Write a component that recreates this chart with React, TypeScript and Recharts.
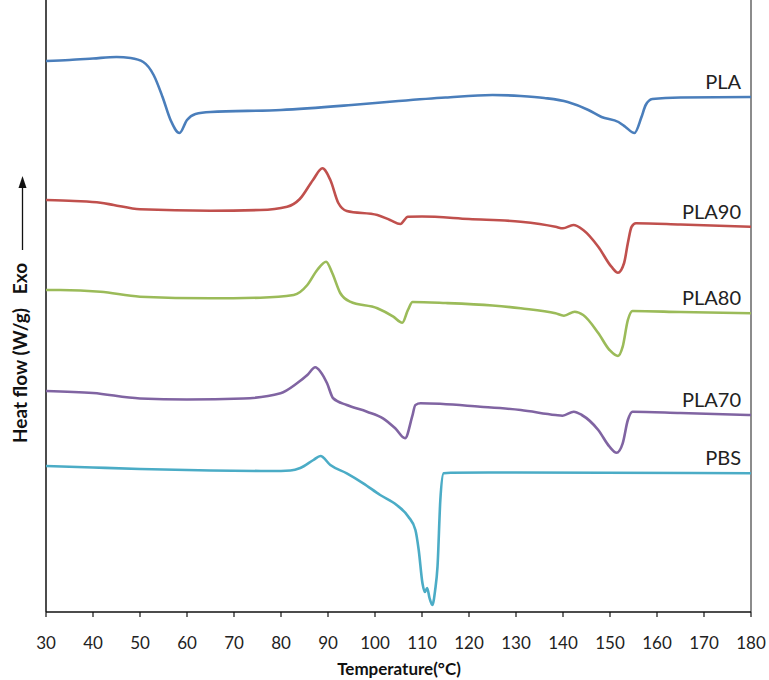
import React from "react";
import { LineChart, Line, XAxis, YAxis, ReferenceLine, LabelList, Customized } from "recharts";

// Temperature (°C) and heat flow (arbitrary offset units, W/g) for each sample
const plaT = [30, 35, 40, 45, 48, 50.7, 52.9, 54.8, 56.5, 58.4, 60, 61.8, 65, 80, 95, 105, 115, 125, 131, 136, 141, 145.4, 148.2, 151.8, 153.3, 155.2, 156.7, 157.6, 159, 165, 180];
const plaV = [5.51, 5.52, 5.535, 5.55, 5.54, 5.5, 5.37, 5.15, 4.92, 4.79, 4.92, 4.98, 5.0, 5.02, 5.07, 5.11, 5.145, 5.17, 5.16, 5.14, 5.1, 5.02, 4.95, 4.9, 4.85, 4.79, 4.95, 5.07, 5.13, 5.145, 5.15];

const pla90T = [30, 36, 41.6, 44.4, 50, 65, 75.6, 81.3, 84, 86.8, 88.8, 90.5, 92.2, 94, 100.5, 103.2, 105.4, 107, 110, 120, 131, 138.4, 140, 142.2, 144.3, 147.5, 150.3, 151.7, 153, 153.8, 154.6, 155.5, 165, 180];
const pla90V = [4.12, 4.11, 4.093, 4.07, 4.027, 4.013, 4.02, 4.053, 4.13, 4.32, 4.437, 4.32, 4.09, 4.01, 3.97, 3.92, 3.88, 3.953, 3.955, 3.93, 3.903, 3.853, 3.837, 3.87, 3.82, 3.653, 3.453, 3.393, 3.49, 3.69, 3.853, 3.887, 3.875, 3.853];

const pla80T = [30, 33, 41.6, 50, 65, 75.6, 82.7, 85.6, 87.7, 89.6, 90.9, 92.6, 94.7, 100.5, 103.9, 105.8, 107, 108, 115, 125, 131, 138.4, 140.2, 142.5, 144.3, 147.5, 149.9, 151.7, 152.7, 153.8, 154.8, 165, 180];
const pla80V = [3.22, 3.22, 3.203, 3.153, 3.137, 3.143, 3.17, 3.27, 3.42, 3.503, 3.39, 3.19, 3.103, 3.037, 2.953, 2.893, 3.02, 3.1, 3.09, 3.065, 3.037, 2.987, 2.963, 3.003, 2.97, 2.79, 2.62, 2.56, 2.653, 2.92, 3.01, 3.0, 2.987];

const pla70T = [30, 40, 50, 60, 72, 79.9, 83.4, 85.6, 87.3, 88.4, 89.8, 91.1, 94, 98.3, 101.7, 104.3, 106.4, 107.9, 108.6, 109.7, 122.4, 131, 138.4, 139.9, 142.3, 144, 147.5, 149.9, 151.4, 152.7, 153.8, 154.8, 165, 180];
const pla70V = [2.21, 2.19, 2.135, 2.125, 2.135, 2.187, 2.287, 2.37, 2.447, 2.403, 2.287, 2.137, 2.07, 2.003, 1.937, 1.837, 1.737, 1.953, 2.07, 2.087, 2.053, 2.02, 1.97, 1.963, 2.003, 1.97, 1.82, 1.653, 1.593, 1.687, 1.92, 2.003, 1.99, 1.97];

const pbsT = [30, 40, 50, 65, 78, 82, 84.1, 86.9, 88.4, 90.5, 94, 97.5, 101.1, 104.6, 107.1, 108.6, 109.3, 110.1, 110.6, 111.1, 111.6, 112.2, 112.8, 113.3, 113.9, 114.6, 116.1, 130, 180];
const pbsV = [1.46, 1.445, 1.43, 1.415, 1.41, 1.415, 1.44, 1.52, 1.56, 1.47, 1.387, 1.287, 1.17, 1.07, 0.953, 0.82, 0.62, 0.287, 0.2, 0.24, 0.14, 0.07, 0.22, 0.453, 1.12, 1.387, 1.393, 1.395, 1.387];

const xTicks = [30, 40, 50, 60, 70, 80, 90, 100, 110, 120, 130, 140, 150, 160, 170, 180];
const seriesNames = ["PLA", "PLA90", "PLA80", "PLA70", "PBS"];
const seriesColors = ["#4A7EBB", "#C0504D", "#9BBB59", "#8064A2", "#4BACC6"];

const build = (ts: number[], vs: number[]) => ts.map((t, i) => ({ t, v: vs[i] }));
const seriesData = [
  build(plaT, plaV),
  build(pla90T, pla90V),
  build(pla80T, pla80V),
  build(pla70T, pla70V),
  build(pbsT, pbsV),
];

const FONT = "Lato, 'Open Sans', sans-serif";

const makeEndLabel = (name: string, lastIndex: number) => (props: any) => {
  const { x, y, index } = props;
  if (index !== lastIndex) return <g />;
  return (
    <text x={x - 10} y={y - 16} textAnchor="end" dominantBaseline="central" fontFamily={FONT} fontSize={20} fill="#222">
      {name}
    </text>
  );
};

const Annotations = () => (
  <g>
    <text x={399} y={668} textAnchor="middle" dominantBaseline="central" fontFamily={FONT} fontWeight="bold" fontSize={17} fill="#111">
      Temperature(°C)
    </text>
    <text
      transform="translate(19, 353) rotate(-90)"
      textAnchor="middle"
      dominantBaseline="central"
      fontFamily={FONT}
      fontWeight="bold"
      fontSize={19}
      fill="#111"
      style={{ whiteSpace: "pre" }}
    >
      {"Heat flow (W/g)   Exo"}
    </text>
    <line x1={22.5} y1={250} x2={22.5} y2={186} stroke="#111" strokeWidth={1.3} />
    <polygon points="22.5,176 18.5,188 26.5,188" fill="#111" />
  </g>
);

export default function App() {
  return (
    <div style={{ position: "absolute", left: 0, top: 0, width: 769, height: 680, background: "#fff" }}>
      <LineChart width={769} height={680} margin={{ top: 0, right: 18, left: 46, bottom: 0 }}>
        <XAxis
          dataKey="t"
          type="number"
          domain={[30, 180]}
          ticks={xTicks}
          allowDuplicatedCategory={false}
          height={68}
          tickSize={5}
          tickMargin={20}
          axisLine={{ stroke: "#111", strokeWidth: 1.5 }}
          tickLine={{ stroke: "#111", strokeWidth: 1.2 }}
          tick={{ fontFamily: FONT, fontSize: 17, fill: "#222" }}
        />
        <YAxis type="number" domain={[0, 6.12]} hide />
        <ReferenceLine x={30} stroke="#111" strokeWidth={1.5} ifOverflow="visible" />
        <ReferenceLine x={180} stroke="#666" strokeWidth={1.5} ifOverflow="visible" />
        {seriesData.map((d, i) => (
          <Line
            key={seriesNames[i]}
            data={d}
            dataKey="v"
            name={seriesNames[i]}
            type="monotone"
            stroke={seriesColors[i]}
            strokeWidth={2.6}
            dot={false}
            activeDot={false}
            isAnimationActive={false}
          >
            <LabelList dataKey="v" content={makeEndLabel(seriesNames[i], d.length - 1)} />
          </Line>
        ))}
        <Customized component={Annotations} />
      </LineChart>
    </div>
  );
}
